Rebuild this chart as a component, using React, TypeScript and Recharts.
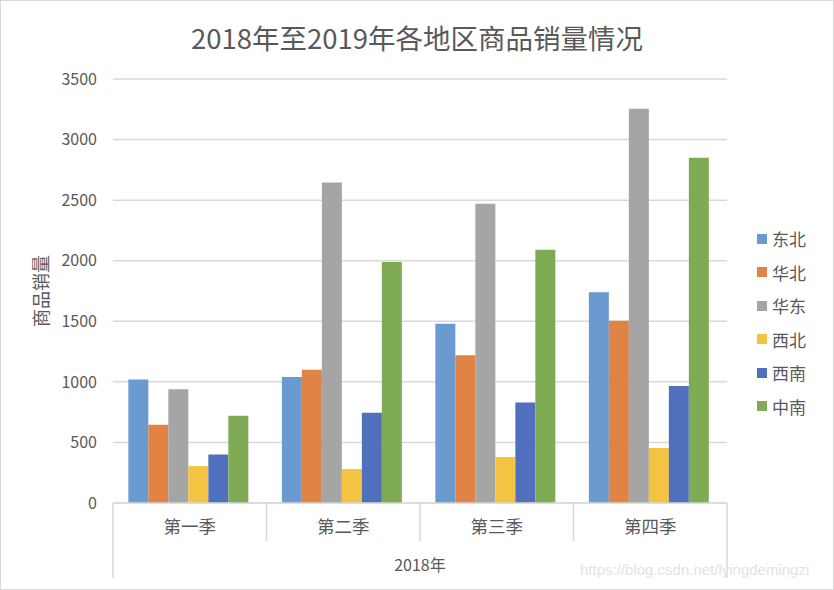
import React from 'react';
import { BarChart, Bar, XAxis, YAxis, CartesianGrid, Legend } from 'recharts';

const quarters = ['第一季', '第二季', '第三季', '第四季'];
const dongbei = [1020, 1040, 1480, 1740];
const huabei = [645, 1100, 1220, 1505];
const huadong = [940, 2645, 2470, 3255];
const xibei = [305, 280, 380, 455];
const xinan = [400, 745, 830, 965];
const zhongnan = [720, 1990, 2090, 2850];
const yTicks = [0, 500, 1000, 1500, 2000, 2500, 3000, 3500];

const seriesNames = ['东北', '华北', '华东', '西北', '西南', '中南'];
const seriesValues = [dongbei, huabei, huadong, xibei, xinan, zhongnan];
const colors = ['#6a9ad0', '#e08344', '#a5a5a5', '#f5c342', '#5070be', '#7fab55'];

const data = quarters.map((q, i) => {
  const row: Record<string, string | number> = { name: q };
  seriesNames.forEach((s, j) => {
    row[s] = seriesValues[j][i];
  });
  return row;
});

const FONT = '"Noto Sans CJK SC", "Noto Sans", sans-serif';
const TEXT = '#595959';
const LINE = '#d9d9d9';

// category label plus the bracket lines between quarters
const QuarterTick = (props: any) => {
  const { x, y, payload, width, visibleTicksCount, index } = props;
  const band = width / visibleTicksCount;
  const left = x - band / 2;
  const right = x + band / 2;
  const last = index === visibleTicksCount - 1;
  return (
    <g>
      <line x1={left} y1={y} x2={left} y2={y + (index === 0 ? 75 : 38)} stroke={LINE} strokeWidth={1.5} />
      {last && <line x1={right} y1={y} x2={right} y2={y + 75} stroke={LINE} strokeWidth={1.5} />}
      <text x={x} y={y + 30} textAnchor="middle" fill={TEXT} fontSize={17.5} fontFamily={FONT}>
        {payload.value}
      </text>
    </g>
  );
};

const LegendContent = () => (
  <div style={{ width: 80, fontFamily: FONT }}>
    {seriesNames.map((s, i) => (
      <div key={s} style={{ display: 'flex', alignItems: 'center', height: 33.5 }}>
        <span style={{ width: 10, height: 10, background: colors[i], marginRight: 5 }} />
        <span style={{ fontSize: 17, color: TEXT }}>{s}</span>
      </div>
    ))}
  </div>
);

export default function App() {
  return (
    <div
      style={{
        position: 'absolute',
        left: 0,
        top: 0,
        width: 834,
        height: 590,
        border: '1px solid #d9d9d9',
        boxSizing: 'border-box',
        background: '#fff',
        fontFamily: FONT,
      }}
    >
      <div
        style={{
          position: 'absolute',
          top: 16,
          left: 0,
          width: 832,
          textAlign: 'center',
          fontSize: 27.5,
          color: TEXT,
        }}
      >
        2018年至2019年各地区商品销量情况
      </div>
      <BarChart
        width={832}
        height={588}
        data={data}
        margin={{ top: 78, right: 26, bottom: 6, left: 20 }}
        barCategoryGap="10%"
        barGap={0}
      >
        <CartesianGrid vertical={false} stroke={LINE} strokeWidth={1.5} />
        <XAxis
          dataKey="name"
          height={80}
          axisLine={{ stroke: LINE, strokeWidth: 1.5 }}
          tickLine={false}
          tickSize={0}
          tickMargin={0}
          interval={0}
          tick={<QuarterTick />}
          label={{ value: '2018年', position: 'insideBottom', offset: 12, fill: TEXT, fontSize: 16, fontFamily: FONT }}
        />
        <YAxis
          width={92}
          domain={[0, 3500]}
          ticks={yTicks}
          axisLine={false}
          tickLine={false}
          tickSize={0}
          tickMargin={16}
          tick={{ fill: TEXT, fontSize: 16, fontFamily: FONT }}
          label={{
            content: ({ viewBox }: any) => {
              const cx = viewBox.x + 19;
              const cy = viewBox.y + viewBox.height / 2;
              return (
                <text
                  x={cx}
                  y={cy}
                  transform={`rotate(-90 ${cx} ${cy})`}
                  textAnchor="middle"
                  dominantBaseline="central"
                  fill={TEXT}
                  fontSize={18}
                  fontFamily={FONT}
                >
                  商品销量
                </text>
              );
            },
          }}
        />
        <Legend
          layout="vertical"
          align="right"
          verticalAlign="top"
          content={<LegendContent />}
          wrapperStyle={{ left: 756, top: 221, width: 80 }}
        />
        {seriesNames.map((s, i) => (
          <Bar key={s} dataKey={s} fill={colors[i]} isAnimationActive={false} />
        ))}
      </BarChart>
      <div
        style={{
          position: 'absolute',
          left: 579,
          top: 560,
          fontSize: 15,
          color: '#e3e3e3',
          fontFamily: 'Arial, "Liberation Sans", sans-serif',
        }}
      >
        https://blog.csdn.net/lyingdemingzi
      </div>
    </div>
  );
}
